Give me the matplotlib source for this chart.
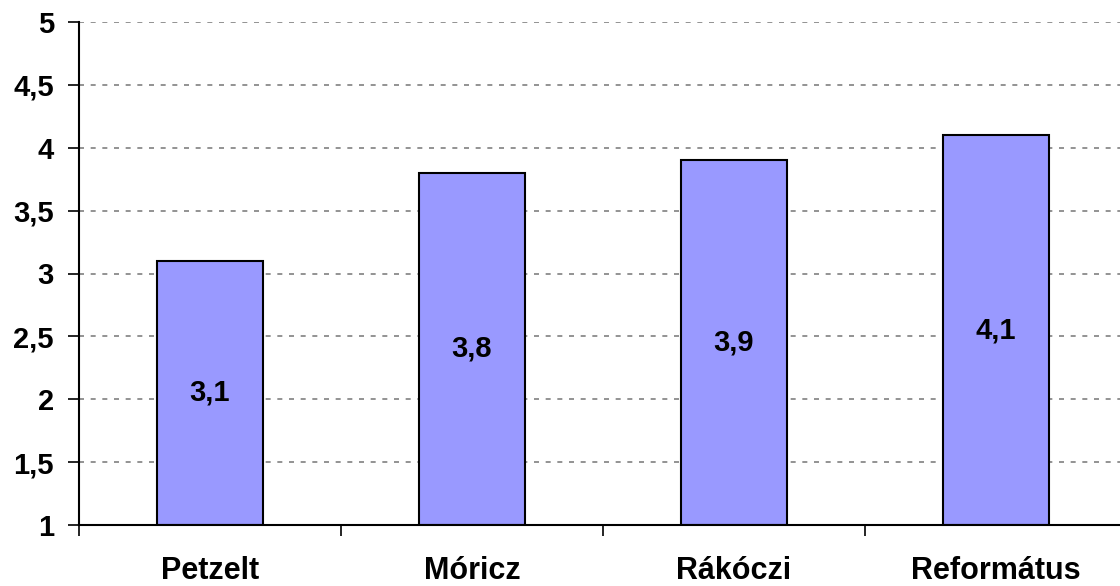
import matplotlib.pyplot as plt
import numpy as np

schools = ["Petzelt", "Móricz", "Rákóczi", "Református"]
scores = [3.1, 3.8, 3.9, 4.1]
y_ticks = [1, 1.5, 2, 2.5, 3, 3.5, 4, 4.5, 5]

plt.rcParams["font.family"] = ["Liberation Sans", "DejaVu Sans"]
plt.rcParams["font.weight"] = "bold"

fig = plt.figure(figsize=(11.2, 5.86), dpi=100)
ax = fig.add_axes([79 / 1120, 61 / 586, 1048 / 1120, 503 / 586])

x = np.arange(len(schools))
base = y_ticks[0]
heights = [s - base for s in scores]
ax.bar(x, heights, bottom=base, width=0.405, color="#9999ff",
       edgecolor="black", linewidth=1.5, zorder=3)

for xi, s in zip(x, scores):
    ax.text(xi, (base + s) / 2, f"{s:.1f}".replace(".", ","),
            ha="center", va="center", fontsize=21, fontweight="bold", zorder=4)

ax.set_xlim(-0.5, len(schools) - 0.5)
ax.set_ylim(y_ticks[0], y_ticks[-1])
ax.set_yticks(y_ticks)
ax.set_yticklabels([f"{t:g}".replace(".", ",") for t in y_ticks],
                   fontsize=21, fontweight="bold")
ax.yaxis.grid(True, linestyle=(0, (3, 4)), color="#808080", linewidth=1.2, zorder=0)

# category labels in the middle, ticks on the boundaries
ax.set_xticks(np.arange(-0.5, len(schools) + 0.5, 1.0))
ax.set_xticklabels([])
ax.set_xticks(x, minor=True)
ax.set_xticklabels(schools, minor=True, fontsize=22, fontweight="bold")
ax.tick_params(axis="x", which="minor", length=0, pad=22)
ax.tick_params(axis="x", which="major", length=8, width=1.2, direction="out")
ax.tick_params(axis="y", length=8, width=1.2, direction="out", pad=10)

for side in ("top", "right"):
    ax.spines[side].set_visible(False)
ax.spines["left"].set_linewidth(1.5)
ax.spines["bottom"].set_linewidth(1.5)
ax.spines["bottom"].set_zorder(5)

fig.savefig("out.png", dpi=100, facecolor="white")
